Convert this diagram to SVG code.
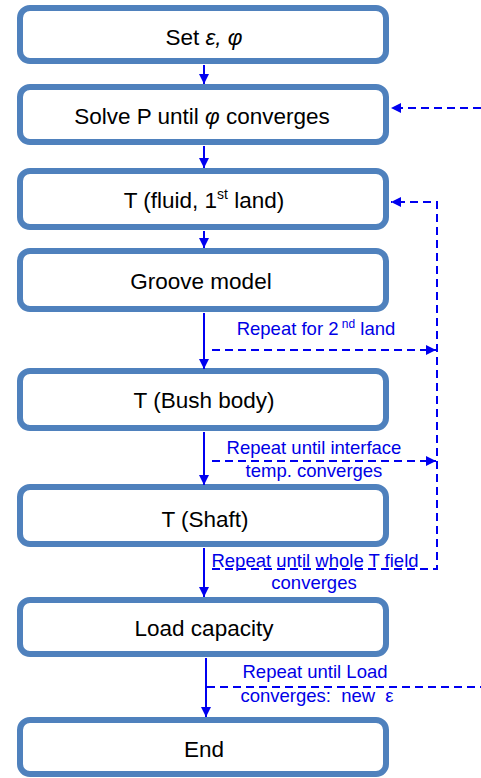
<svg xmlns="http://www.w3.org/2000/svg" width="481" height="778" viewBox="0 0 481 778">
<defs>
<style>
.box{fill:#fff;stroke:#4f81bd;stroke-width:6}
.t{font-family:"Liberation Sans",Arial,sans-serif;font-size:22.5px;fill:#000;text-anchor:middle}
.l{font-family:"Liberation Sans",Arial,sans-serif;font-size:18.5px;fill:#0000e6;text-anchor:middle}
.s{stroke:#0000f0;stroke-width:2;fill:none}
.d{stroke:#0000f0;stroke-width:2;fill:none;stroke-dasharray:8 5}
.i{font-style:italic}
</style>
<marker id="ah" viewBox="0 0 10 10" refX="10" refY="5" markerWidth="5" markerHeight="5.5" orient="auto" markerUnits="strokeWidth">
<path d="M0,0 L10,5 L0,10 z" fill="#0000f0"/>
</marker>
</defs>
<rect width="481" height="778" fill="#fff"/>
<g id="n1"><rect class="box" x="20" y="8" width="366" height="53" rx="10"/><text class="t" x="204" y="45">Set<tspan class="i"> ε,  φ</tspan></text></g>
<g id="n2"><rect class="box" x="20" y="87" width="366" height="55" rx="10"/><text class="t" x="202" y="124">Solve P until <tspan class="i">φ</tspan> converges</text></g>
<g id="n3"><rect class="box" x="20" y="171" width="366" height="56" rx="10"/><text class="t" x="204" y="208">T (fluid, 1<tspan font-size="14" dy="-9">st</tspan><tspan dy="9"> land)</tspan></text></g>
<g id="n4"><rect class="box" x="20" y="251" width="366" height="58" rx="10"/><text class="t" x="201" y="289">Groove model</text></g>
<g id="n5"><rect class="box" x="20" y="371" width="366" height="57" rx="10"/><text class="t" x="204" y="408">T (Bush body)</text></g>
<g id="n6"><rect class="box" x="20" y="487" width="366" height="57" rx="10"/><text class="t" x="205" y="527">T (Shaft)</text></g>
<g id="n7"><rect class="box" x="20" y="600" width="366" height="54" rx="10"/><text class="t" x="204" y="636">Load capacity</text></g>
<g id="n8"><rect class="box" x="20" y="720" width="366" height="54" rx="10"/><text class="t" x="204" y="757">End</text></g>
<g id="connectors">
<line class="s" x1="204" y1="65" x2="204" y2="84" marker-end="url(#ah)"/>
<line class="s" x1="204" y1="146" x2="204" y2="168" marker-end="url(#ah)"/>
<line class="s" x1="204" y1="231" x2="204" y2="248" marker-end="url(#ah)"/>
<line class="s" x1="204" y1="313" x2="204" y2="369" marker-end="url(#ah)"/>
<line class="s" x1="204" y1="432" x2="204" y2="485" marker-end="url(#ah)"/>
<line class="s" x1="204" y1="548" x2="204" y2="597" marker-end="url(#ah)"/>
<line class="s" x1="206" y1="658" x2="206" y2="717" marker-end="url(#ah)"/>
<line class="d" x1="481" y1="108" x2="391" y2="108" marker-end="url(#ah)"/>
<polyline class="d" points="212,569 437,569 437,202 391,202" marker-end="url(#ah)"/>
<line class="d" x1="212" y1="350" x2="436" y2="350" marker-end="url(#ah)"/>
<line class="d" x1="212" y1="461" x2="436" y2="461" marker-end="url(#ah)"/>
<line class="d" x1="207" y1="687" x2="481" y2="687"/>
</g>
<g id="labels">
<text class="l" x="316" y="335">Repeat for 2<tspan font-size="12" dy="-7"> nd</tspan><tspan dy="7"> land</tspan></text>
<text class="l" x="314" y="454">Repeat until interface</text>
<text class="l" x="314" y="477">temp. converges</text>
<text class="l" x="315" y="567">Repeat until whole T field</text>
<text class="l" x="314" y="589">converges</text>
<text class="l" x="315" y="678">Repeat until Load</text>
<text class="l" x="317" y="702" xml:space="preserve">converges:  new  ε</text>
</g>
</svg>
